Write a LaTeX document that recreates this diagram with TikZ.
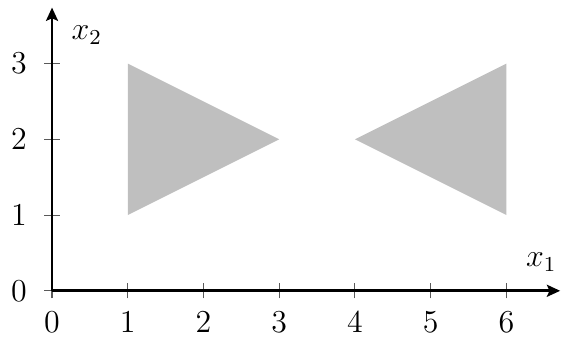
\documentclass[tikz,border=0pt]{standalone}
\usepackage{amsmath,amssymb}
\usepackage{tikz}
\usetikzlibrary{arrows.meta}

\begin{document}
\begin{tikzpicture}[every node/.style={font=\large}]
  \useasboundingbox (-0.687,-0.62) rectangle (6.80,3.84);
  % shaded regions
  \fill[gray!50] (1,1) -- (1,3) -- (3,2) -- cycle;
  \fill[gray!50] (6,1) -- (6,3) -- (4,2) -- cycle;
  % ticks
  \foreach \i in {1,...,6}
    \draw[gray!70!black] (\i,-0.1) -- (\i,0.1);
  \foreach \j in {1,2,3}
    \draw[gray!70!black] (-0.1,\j) -- (0.1,\j);
  \draw[gray!70!black] (0,-0.1) -- (0,0);
  \draw[gray!70!black] (-0.1,0) -- (0,0);
  % axes
  \draw[line width=1pt,-{Stealth[length=5pt,width=4.5pt,inset=1pt]}] (0,0) -- (6.71,0);
  \draw[line width=1pt,-{Stealth[length=5pt,width=4.5pt,inset=1pt]}] (0,0) -- (0,3.74);
  \node (xlab) at (6.46,0.38) {$x_1$};
  \node (ylab) at (0.46,3.38) {$x_2$};
  \foreach \i in {0,...,6}
    \node[below=4.5pt] (xt\i) at (\i,0) {$\i$};
  \foreach \j in {0,...,3}
    \node[left=6pt] (yt\j) at (0,\j) {$\j$};
\end{tikzpicture}
\end{document}
